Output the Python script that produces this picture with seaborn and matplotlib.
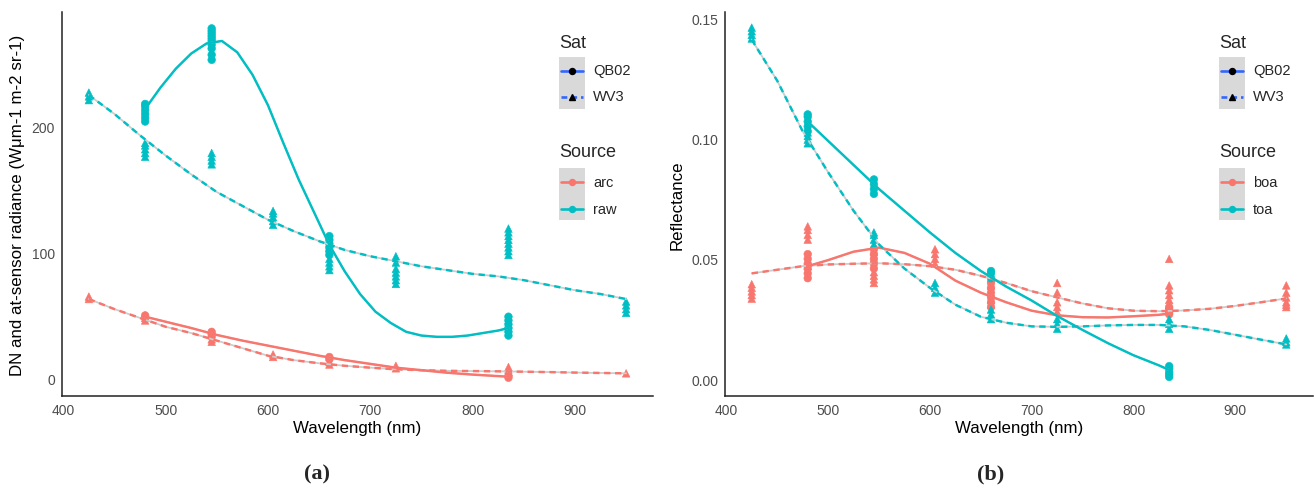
import matplotlib
matplotlib.use("Agg")
import matplotlib.pyplot as plt
from matplotlib.lines import Line2D
from matplotlib.patches import Rectangle
from matplotlib.ticker import FormatStrFormatter
import pandas as pd
import seaborn as sns

# ---- panel (a): DN / at-sensor radiance, points per band ----
RAD_RAW_QB02 = {480: [204, 207, 210, 213, 216, 218],
                545: [253, 257, 262, 265, 268, 270, 272, 274, 276, 278],
                660: [98, 101, 104, 107, 110, 113],
                835: [34, 37, 40, 43, 46, 49]}
RAD_RAW_WV3 = {425: [221, 224, 227], 480: [176, 179, 182, 185, 187],
               545: [170, 173, 176, 179], 605: [122, 125, 128, 131, 133],
               660: [86, 89, 92, 95], 725: [75, 78, 81, 84, 87, 92, 97],
               835: [98, 101, 104, 107, 110, 113, 116, 119], 950: [52, 55, 58, 61]}
RAD_ARC_QB02 = {480: [48, 50], 545: [33, 35, 37], 660: [15, 17], 835: [0.5, 2]}
RAD_ARC_WV3 = {425: [63, 65], 480: [46, 48, 50], 545: [29, 31], 605: [17, 19],
               660: [11, 13], 725: [8, 10], 835: [5, 7, 9], 950: [4]}

# smoothed curves
FIT_WL_Q15 = [480, 495, 510, 525, 540, 555, 570, 585, 600, 615, 630, 645, 660,
              675, 690, 705, 720, 735, 750, 765, 780, 795, 810, 825, 835]
FIT_RAD_RAW_QB02 = [214, 231, 246, 258, 266, 268, 259, 241, 217, 187, 158, 132, 106,
                    85, 67, 53, 44, 37, 34, 33, 33, 34, 36, 38, 40]
FIT_WL_Q25 = [480, 500, 525, 550, 575, 600, 625, 650, 675, 700, 725, 750, 775, 800, 825, 835]
FIT_WL_W25 = [425, 450, 475, 500, 525, 550, 575, 600, 625, 650, 675, 700, 725, 750,
              775, 800, 825, 850, 875, 900, 925, 950]
FIT_RAD_RAW_WV3 = [225, 210, 193, 177, 162, 148, 137, 126, 117, 109, 102, 97, 93, 89,
                   86, 83, 81, 78, 74, 70, 67, 63]
FIT_RAD_ARC_QB02 = [49, 45, 40, 34.5, 30, 26, 22, 18, 14.5, 11.5, 8.5, 6.5, 4.5, 3, 1.8, 1.3]
FIT_RAD_ARC_WV3 = [63, 55, 48, 41, 36, 30, 24, 18, 14.5, 12, 10, 8.5, 7.2, 6.5, 6, 5.8,
                   5.6, 5.3, 5, 4.6, 4.3, 4]

# ---- panel (b): reflectance ----
REF_TOA_QB02 = {480: [0.103, 0.105, 0.107, 0.109, 0.110], 545: [0.077, 0.079, 0.081, 0.083],
                660: [0.042, 0.044, 0.045], 835: [0.001, 0.002, 0.003, 0.0045, 0.0055]}
REF_TOA_WV3 = {425: [0.1415, 0.143, 0.1445, 0.146], 480: [0.098, 0.0995, 0.101, 0.1025],
               545: [0.056, 0.058, 0.060, 0.061], 605: [0.036, 0.038, 0.040],
               660: [0.025, 0.027, 0.029], 725: [0.021, 0.023, 0.025],
               835: [0.021, 0.023, 0.025], 950: [0.0145, 0.0155, 0.017]}
REF_BOA_QB02 = {480: [0.042, 0.044, 0.046, 0.048, 0.050, 0.052],
                545: [0.046, 0.048, 0.050, 0.052, 0.054],
                660: [0.030, 0.032, 0.034, 0.036, 0.038, 0.040],
                835: [0.027, 0.028, 0.029, 0.030]}
REF_BOA_WV3 = {425: [0.0335, 0.035, 0.0365, 0.038, 0.0395],
               480: [0.047, 0.049, 0.058, 0.060, 0.062, 0.0635],
               545: [0.040, 0.0415, 0.043, 0.0445, 0.050, 0.053],
               605: [0.048, 0.050, 0.052, 0.054], 660: [0.031, 0.033, 0.036, 0.039, 0.042],
               725: [0.028, 0.030, 0.032, 0.036, 0.040],
               835: [0.029, 0.031, 0.033, 0.035, 0.037, 0.039, 0.050],
               950: [0.030, 0.031, 0.032, 0.034, 0.036, 0.039]}

FIT_REF_TOA_QB02 = [0.107, 0.099, 0.089, 0.079, 0.070, 0.061, 0.0525, 0.045, 0.0385, 0.0327,
                    0.0263, 0.0205, 0.0150, 0.0100, 0.0058, 0.0039]
FIT_REF_TOA_WV3 = [0.141, 0.124, 0.103, 0.086, 0.070, 0.056, 0.046, 0.038, 0.031, 0.026, 0.0235,
                   0.022, 0.0218, 0.022, 0.0224, 0.0226, 0.0226, 0.022, 0.0205, 0.0185, 0.0165, 0.0145]
FIT_REF_BOA_QB02 = [0.047, 0.0495, 0.053, 0.0547, 0.0525, 0.048, 0.041, 0.036, 0.032, 0.0285,
                    0.0266, 0.0258, 0.0257, 0.0262, 0.0268, 0.0273]
FIT_REF_BOA_WV3 = [0.0440, 0.0455, 0.047, 0.0477, 0.048, 0.0482, 0.0478, 0.047, 0.0455, 0.043,
                   0.040, 0.0366, 0.034, 0.0315, 0.0295, 0.0285, 0.0283, 0.0286, 0.0293, 0.0305,
                   0.032, 0.0336]

RED, CYAN, BLUE = "#F8766D", "#00BFC4", "#3366FF"
FONT = ["Liberation Sans", "DejaVu Sans"]
DASH = (0, (2.6, 1.9))


def points_frame(groups):
    rows = []
    for source, sat, d in groups:
        for wl, vals in d.items():
            for v in vals:
                rows.append({"wl": wl, "val": v, "Source": source, "Sat": sat})
    return pd.DataFrame(rows)


def curve_frame(groups):
    rows = []
    for source, sat, wls, vals in groups:
        for wl, v in zip(wls, vals):
            rows.append({"wl": wl, "val": v, "Source": source, "Sat": sat})
    return pd.DataFrame(rows)


def draw_panel(ax, pts, fits, order, ylim):
    pal = {order[0]: RED, order[1]: CYAN}
    sns.scatterplot(data=pts, x="wl", y="val", hue="Source", style="Sat", hue_order=order,
                    palette=pal, markers={"QB02": "o", "WV3": "^"}, s=30, linewidth=0.4,
                    edgecolor="face", legend=False, ax=ax, zorder=2)
    for src in order:
        for sat in ["QB02", "WV3"]:
            sub = fits[(fits["Source"] == src) & (fits["Sat"] == sat)]
            # thin grey band under the smooth, like the se ribbon
            sns.lineplot(data=sub, x="wl", y="val", color="#CDCDCD", lw=1.3,
                         legend=False, ax=ax, zorder=3, sort=False)
            sns.lineplot(data=sub, x="wl", y="val", color=pal[src], lw=1.75,
                         legend=False, ax=ax, zorder=4, sort=False)
            if sat == "WV3":
                ax.lines[-1].set_linestyle(DASH)
    ax.set_xlim(398.75, 976.25)
    ax.set_ylim(*ylim)
    ax.set_xticks([400, 500, 600, 700, 800, 900])
    sns.despine(ax=ax)
    for s in ["left", "bottom"]:
        ax.spines[s].set_color("#222222")
        ax.spines[s].set_linewidth(1.1)
    ax.tick_params(direction="out", length=3, width=0.9, color="#333333",
                   labelcolor="#4D4D4D", labelsize=10, pad=2)
    ax.grid(False)


def draw_legend(fig, x0, labels):
    W, H = 1314.0, 489.0

    def fx(x):
        return x / W

    def fy(y):
        return 1 - y / H

    fig.text(fx(x0), fy(43), "Sat", fontsize=13, va="center", ha="left", family=FONT)
    fig.text(fx(x0), fy(153), "Source", fontsize=13, va="center", ha="left", family=FONT)
    for top in (58, 169):
        fig.add_artist(Rectangle((fx(x0), fy(top + 52)), 26 / W, 52 / H,
                                 transform=fig.transFigure, facecolor="#D9D9D9",
                                 edgecolor="none"))
    sat_keys = [("QB02", "-", "o", 71.5), ("WV3", (0, (2.2, 1.5)), "^", 97.5)]
    for lab, ls, mk, yc in sat_keys:
        fig.add_artist(Line2D([fx(x0 + 2), fx(x0 + 24)], [fy(yc), fy(yc)], color=BLUE,
                              lw=1.9, linestyle=ls, transform=fig.transFigure))
        fig.add_artist(Line2D([fx(x0 + 13)], [fy(yc)], marker=mk, color="black",
                              markersize=4.3, linestyle="none", transform=fig.transFigure))
        fig.text(fx(x0 + 34), fy(yc), lab, fontsize=10.5, va="center", ha="left", family=FONT)
    for lab, col, yc in [(labels[0], RED, 183), (labels[1], CYAN, 209.5)]:
        fig.add_artist(Line2D([fx(x0 + 2), fx(x0 + 24)], [fy(yc), fy(yc)], color=col,
                              lw=1.9, transform=fig.transFigure))
        fig.add_artist(Line2D([fx(x0 + 13)], [fy(yc)], marker="o", color=col,
                              markersize=4.3, linestyle="none", transform=fig.transFigure))
        fig.text(fx(x0 + 34), fy(yc), lab, fontsize=10.5, va="center", ha="left", family=FONT)


sns.set_style("white")
plt.rcParams["font.family"] = FONT

fig = plt.figure(figsize=(13.14, 4.89), dpi=100)
ax_a = fig.add_axes([62 / 1314, 1 - 397 / 489, 591 / 1314, 384 / 489])
ax_b = fig.add_axes([725 / 1314, 1 - 397 / 489, 588 / 1314, 384 / 489])

pts_a = points_frame([("arc", "QB02", RAD_ARC_QB02), ("arc", "WV3", RAD_ARC_WV3),
                      ("raw", "QB02", RAD_RAW_QB02), ("raw", "WV3", RAD_RAW_WV3)])
fits_a = curve_frame([("arc", "QB02", FIT_WL_Q25, FIT_RAD_ARC_QB02),
                      ("arc", "WV3", FIT_WL_W25, FIT_RAD_ARC_WV3),
                      ("raw", "QB02", FIT_WL_Q15, FIT_RAD_RAW_QB02),
                      ("raw", "WV3", FIT_WL_W25, FIT_RAD_RAW_WV3)])
draw_panel(ax_a, pts_a, fits_a, ["arc", "raw"], (-14, 291))
ax_a.set_yticks([0, 100, 200])

pts_b = points_frame([("boa", "QB02", REF_BOA_QB02), ("boa", "WV3", REF_BOA_WV3),
                      ("toa", "QB02", REF_TOA_QB02), ("toa", "WV3", REF_TOA_WV3)])
fits_b = curve_frame([("boa", "QB02", FIT_WL_Q25, FIT_REF_BOA_QB02),
                      ("boa", "WV3", FIT_WL_W25, FIT_REF_BOA_WV3),
                      ("toa", "QB02", FIT_WL_Q25, FIT_REF_TOA_QB02),
                      ("toa", "WV3", FIT_WL_W25, FIT_REF_TOA_WV3)])
draw_panel(ax_b, pts_b, fits_b, ["boa", "toa"], (-0.0069, 0.1525))
ax_b.set_yticks([0, 0.05, 0.10, 0.15])
ax_b.yaxis.set_major_formatter(FormatStrFormatter("%.2f"))

for ax, ylab, ycoord in [(ax_a, "DN and at-sensor radiance (Wμm-1 m-2 sr-1)", -0.076),
                         (ax_b, "Reflectance", -0.0816)]:
    ax.set_xlabel("Wavelength (nm)", fontsize=12.2, color="black")
    ax.set_ylabel(ylab, fontsize=12.2, color="black")
    ax.xaxis.label.set_va("center")
    ax.yaxis.label.set_va("center")
    ax.xaxis.set_label_coords(0.5, -0.081)
    ax.yaxis.set_label_coords(ycoord, 0.5)

draw_legend(fig, 559, ["arc", "raw"])
draw_legend(fig, 1219, ["boa", "toa"])

fig.text(317 / 1314, 1 - 474 / 489, "(a)", fontsize=16, fontweight="bold",
         family=["Liberation Serif", "DejaVu Serif"], ha="center", va="center")
fig.text(991 / 1314, 1 - 474 / 489, "(b)", fontsize=16, fontweight="bold",
         family=["Liberation Serif", "DejaVu Serif"], ha="center", va="center")

fig.savefig("out.png", dpi=100)
